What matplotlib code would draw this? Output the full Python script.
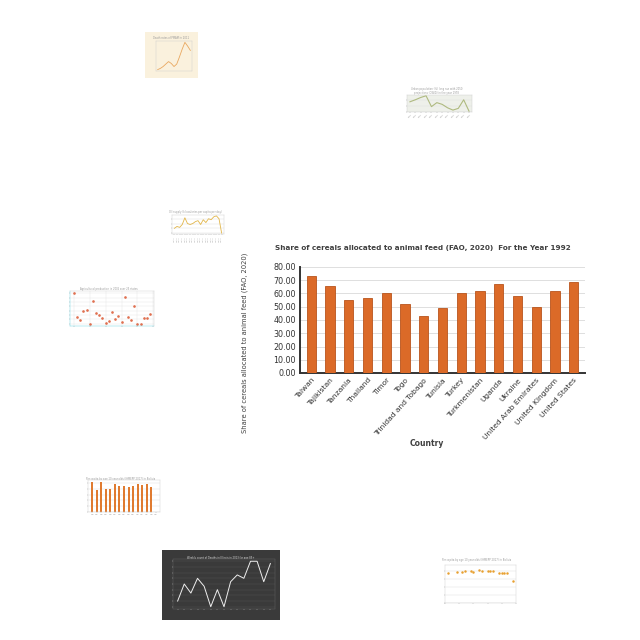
import numpy as np
import matplotlib.pyplot as plt

# main chart data
countries = ["Taiwan", "Tajikistan", "Tanzania", "Thailand", "Timor", "Togo",
             "Trinidad and Tobago", "Tunisia", "Turkey", "Turkmenistan", "Uganda",
             "Ukraine", "United Arab Emirates", "United Kingdom", "United States"]
share_1992 = [73.2, 66.0, 54.8, 56.7, 60.2, 51.8, 42.8, 48.8, 60.2, 62.0, 67.0,
              58.2, 49.8, 62.0, 69.0]

# thumbnail data (tiny, read roughly)
t1_vals = [4, 8, 14, 22, 30, 24, 14, 22, 45, 70, 92, 80, 66]
t2_vals = [55, 62, 70, 76, 38, 52, 46, 34, 26, 32, 62, 22]
t3_vals = [40, 44, 42, 48, 62, 50, 48, 50, 54, 56, 48, 58, 52, 60, 58, 64, 66, 60, 30]
t4_vals = [82, 25, 18, 40, 42, 8, 62, 35, 30, 22, 12, 16, 38, 20, 28, 14, 72, 26,
           18, 50, 10, 8, 22, 24, 32]
t5_years = list(range(2000, 2015))
t5_vals = [105, 76, 104, 80, 80, 97, 88, 90, 86, 89, 95, 93, 97, 85, 0]
t6_vals = [45, 60, 52, 65, 58, 40, 55, 40, 62, 68, 65, 80, 80, 62, 78]
t7_x = [1991, 1994, 1996, 1997, 1999, 2000, 2002, 2003, 2005, 2006, 2007, 2009, 2010,
        2011, 2012, 2014]
t7_vals = [76, 78, 77, 80, 79, 78, 82, 80, 81, 79, 80, 74, 75, 75, 76, 56]

fig = plt.figure(figsize=(6.4, 6.4), dpi=100)
W = H = 640.0


def box(x0, y0, x1, y1):
    return [x0 / W, 1 - y1 / H, (x1 - x0) / W, (y1 - y0) / H]


def thumb(frame, plot, bg, plotbg, title, fg="#999999"):
    f = fig.add_axes(box(*frame))
    f.set_facecolor(bg)
    f.set_xticks([])
    f.set_yticks([])
    for s in f.spines.values():
        s.set_visible(False)
    f.text(0.5, 0.92, title, ha="center", va="top", fontsize=1.8, color=fg,
           transform=f.transAxes)
    a = fig.add_axes(box(*plot))
    a.set_facecolor(plotbg)
    a.tick_params(labelsize=1.2, length=0.8, width=0.3, colors=fg, pad=0.6)
    for s in a.spines.values():
        s.set_linewidth(0.3)
        s.set_color("#cccccc")
    a.grid(axis="y", color="#dddddd", lw=0.3)
    a.set_axisbelow(True)
    return a


# --- main bar chart ---
ax = fig.add_axes(box(300, 267, 585, 373))
x = np.arange(len(countries))
ax.bar(x, share_1992, width=0.5, color="#DB6A28", edgecolor="#B9541C", linewidth=0.6,
       zorder=3)
ax.set_ylim(0, 80)
ax.set_xlim(-0.6, len(countries) - 0.4)
ax.set_yticks(np.arange(0, 81, 10))
ax.set_yticklabels(["%.2f" % v for v in np.arange(0, 81, 10)], fontsize=5.8,
                   color="#333333")
ax.set_xticks(x)
ax.set_xticklabels(countries, rotation=48, ha="right", rotation_mode="anchor",
                   fontsize=5.4, color="#333333")
ax.tick_params(length=0, pad=3)
ax.grid(axis="y", color="#d9d9d9", lw=0.6)
ax.set_axisbelow(True)
for s in ["top", "right"]:
    ax.spines[s].set_visible(False)
ax.spines["left"].set_color("#333333")
ax.spines["left"].set_linewidth(1.4)
ax.spines["bottom"].set_color("#333333")
ax.spines["bottom"].set_linewidth(1.4)
fig.text(275 / W, 1 - 248 / H,
         "Share of cereals allocated to animal feed (FAO, 2020)  For the Year 1992",
         fontsize=5.2, fontweight="bold", color="#404040", va="center", ha="left")
fig.text(245 / W, 1 - 343 / H, "Share of cereals allocated to animal feed (FAO, 2020)",
         fontsize=4.9, color="#404040", rotation=90,
         ha="center", va="center")
fig.text(427 / W, 1 - 444 / H, "Country", fontsize=5.5, fontweight="bold",
         color="#404040", ha="center", va="center")

# --- thumbnail 1: cream line ---
a = thumb((145, 32, 198, 78), (156, 41, 192, 71), "#FAF1DD", "#FAF1DD",
          "Death rates of PMAM in 2011")
a.plot(t1_vals, color="#E9A860", lw=0.6)
a.set_xticks([])
a.set_yticks([])

# --- thumbnail 2: olive line ---
a = thumb((398, 83, 475, 130), (407, 95, 472, 112), "white", "#EEF0EA",
          "Urban population (%) long run with 2050\nprojections (OWID) in the year 1978")
a.plot(t2_vals, color="#AFBA80", lw=0.8)
a.set_xticks(range(len(t2_vals)))
a.set_xticklabels(["Region"] * len(t2_vals), rotation=45, fontsize=1.0)
a.set_yticklabels([])

# --- thumbnail 3: yellow line ---
a = thumb((163, 206, 228, 258), (172, 215, 224, 234), "white", "white",
          "Oil supply (kilocalories per capita per day)\nfor the year 1980")
a.plot(t3_vals, color="#E2B64A", lw=0.6)
a.set_xticks(range(len(t3_vals)))
a.set_xticklabels(["Country"] * len(t3_vals), rotation=90, fontsize=1.0)
a.set_yticklabels([])

# --- thumbnail 4: scatter ---
a = thumb((60, 283, 157, 335), (70, 291, 154, 326), "white", "white",
          "Agricultural production in 2006 over 25 states")
a.scatter(range(len(t4_vals)), t4_vals, s=0.8, color="#E07050")
a.grid(axis="both", color="#e4e4e4", lw=0.3)
a.spines["left"].set_color("#60D0E0")
a.spines["bottom"].set_color("#60D0E0")
a.set_xticklabels([])
a.set_yticklabels([])

# --- thumbnail 5: orange bars ---
a = thumb((78, 473, 163, 520), (88, 480, 160, 512), "white", "white",
          "Per capita by age 10 year olds (IHMEPP 2017) in Bolivia")
a.bar(range(len(t5_years)), t5_vals, width=0.45, color="#E07B30")
a.set_xticks(range(len(t5_years)))
a.set_xticklabels([str(y) for y in t5_years], fontsize=1.0)
a.set_yticklabels([])

# --- thumbnail 6: dark line ---
a = thumb((162, 550, 280, 620), (173, 559, 275, 609), "#3A3A3A", "#3A3A3A",
          "Weekly count of Deaths in Illinois in 2013 for age 85+", fg="#dddddd")
a.plot(t6_vals, color="#EEEEEE", lw=0.7)
a.grid(axis="y", color="#555555", lw=0.3)
a.set_xticks(range(len(t6_vals)))
a.set_xticklabels([])
a.set_yticklabels([])
for s in a.spines.values():
    s.set_color("#666666")

# --- thumbnail 7: scatter ---
a = thumb((433, 553, 520, 610), (445, 565, 516, 603), "white", "white",
          "Per capita by age 10 year olds (IHMEPP 2017) in Bolivia")
a.scatter(t7_x, t7_vals, s=0.6, color="#E8A030")
a.set_ylim(0, 95)
a.set_xticklabels([])
a.set_yticklabels([])

fig.savefig("out.png", dpi=100)
